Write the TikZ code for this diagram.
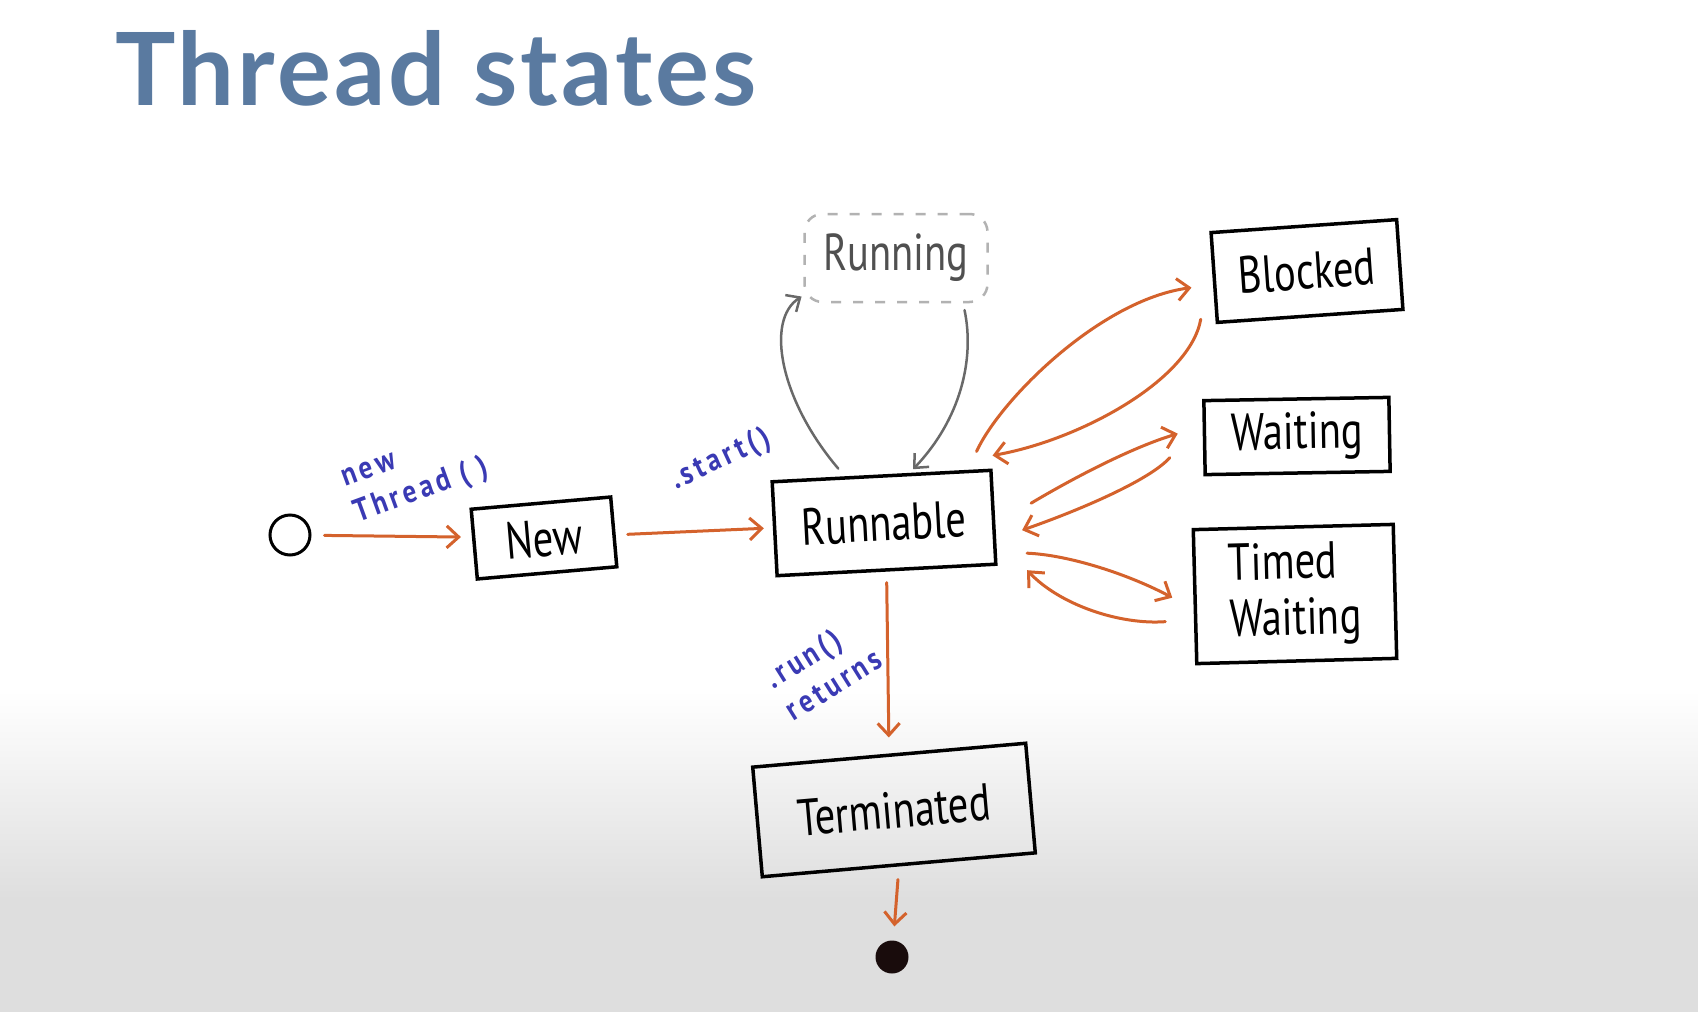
\documentclass[tikz,border=0pt]{standalone}
\usepackage{fontspec}
\setmainfont{PT Sans}
\newfontfamily\titlefont[LetterSpace=3]{Lato}
\newfontfamily\handfont[FakeStretch=0.78]{PT Sans}
\newfontfamily\notefont[FakeStretch=0.85,LetterSpace=12]{PT Sans}
\usetikzlibrary{arrows.meta}

\definecolor{titleblue}{RGB}{90,122,160}
\definecolor{penorange}{RGB}{212,98,44}
\definecolor{penblue}{RGB}{58,58,180}
\definecolor{pengray}{RGB}{105,105,105}
\definecolor{dashgray}{RGB}{178,178,178}
\definecolor{textgray}{RGB}{80,80,80}
\definecolor{floorgray}{RGB}{222,222,222}
\definecolor{inkblack}{RGB}{25,12,12}

\begin{document}
\begin{tikzpicture}[x=1pt,y=-1pt,
  state/.style={draw=black, line width=3.5pt, inner sep=0pt, align=center,
    font={\handfont\fontsize{52}{56}\selectfont}},
  ghost/.style={draw=dashgray, line width=2.5pt, dash pattern=on 10pt off 12pt,
    rounded corners=18pt, inner sep=0pt, text=textgray,
    font={\handfont\fontsize{52}{56}\selectfont}},
  note/.style={text=penblue, inner sep=0pt, align=left,
    font={\notefont\bfseries\fontsize{32}{38}\selectfont}},
  flow/.style={draw=penorange, line width=3pt, line cap=round,
    -{Straight Barb[length=12pt,width=22pt,line width=3pt]}},
  cycle/.style={draw=pengray, line width=2.5pt, line cap=round,
    -{Straight Barb[length=11pt,width=20pt,line width=2.5pt]}}
]
\useasboundingbox (0,0) rectangle (1698,1012);

% slide background: white, fading to light grey towards the bottom
\fill[white] (0,0) rectangle (1698,1012);
\shade[top color=white, bottom color=floorgray] (0,690) rectangle (1698,900);
\fill[floorgray] (0,899) rectangle (1698,1012);

% title
\node[anchor=base west, inner sep=0pt, text=titleblue,
  font={\titlefont\bfseries\fontsize{101}{110}\selectfont}] (title) at (115,105) {Thread states};

% states
\node[draw=black, line width=3pt, circle, minimum size=40pt, inner sep=0pt] (start) at (290,535) {};
\node[state, minimum width=140pt, minimum height=70pt, rotate=5] (new) at (544,538) {New};
\node[state, minimum width=219pt, minimum height=94pt, rotate=3] (runnable) at (884,523) {Runnable};
\node[ghost, minimum width=183pt, minimum height=88pt] (running) at (896,258) {Running};
\node[state, minimum width=186pt, minimum height=90pt, rotate=4] (blocked) at (1307,271) {Blocked};
\node[state, minimum width=185pt, minimum height=74pt, rotate=1] (waiting) at (1297,436) {Waiting};
\node[state, minimum width=200pt, minimum height=134pt, rotate=1.5, align=left] (timed) at (1295,594) {Timed\\Waiting};
\node[state, minimum width=274pt, minimum height=110pt, rotate=5] (terminated) at (894,810) {Terminated};
\node[circle, fill=inkblack, minimum size=33pt, inner sep=0pt] (stop) at (892,957) {};

% transition labels
\node[note, rotate=20] (lblnew) at (416,476) {new\\Thread ( )};
\node[note, rotate=25] (lblstart) at (721,460) {.start()};
\node[note, rotate=32] (lblrun) at (823,668) {.run()\\returns};

% main life line
\draw[flow, shorten <=13pt, shorten >=11pt] (start) -- (new);
\draw[flow, shorten <=12pt, shorten >=9pt] (new) -- (runnable);
\draw[flow, shorten <=11pt, shorten >=16pt] (runnable.south) -- (terminated.north);
\draw[flow, shorten <=13pt, shorten >=14pt] (terminated.south) -- (stop);

% scheduler loop between runnable and running
\draw[cycle, shorten <=10pt, shorten >=2pt]
  (runnable.127) .. controls (780,400) and (765,320) .. (running.202);
\draw[cycle, shorten <=7pt, shorten >=5pt]
  (running.326) .. controls (975,360) and (960,420) .. (runnable.60);

% blocked
\draw[flow] ([shift={(-16,-17)}]runnable.north east)
  .. controls (1000,400) and (1100,300) .. ([shift={(-21,10)}]blocked.west);
\draw[flow] ([shift={(-15,-5)}]blocked.south west)
  .. controls (1190,380) and (1080,440) .. ([shift={(0,-13)}]runnable.north east);

% waiting
\draw[flow] ([shift={(36,-14)}]runnable.east)
  .. controls (1070,480) and (1130,448) .. ([shift={(-25,-4)}]waiting.west);
\draw[flow] ([shift={(-33,20)}]waiting.west)
  .. controls (1150,480) and (1080,510) .. ([shift={(27,13)}]runnable.east);

% timed waiting
\draw[flow] ([shift={(32,36)}]runnable.east)
  .. controls (1070,555) and (1130,575) .. ([shift={(-21,1)}]timed.west);
\draw[flow] ([shift={(-28,25)}]timed.west)
  .. controls (1120,625) and (1060,605) .. ([shift={(32,53)}]runnable.east);
\end{tikzpicture}
\end{document}
